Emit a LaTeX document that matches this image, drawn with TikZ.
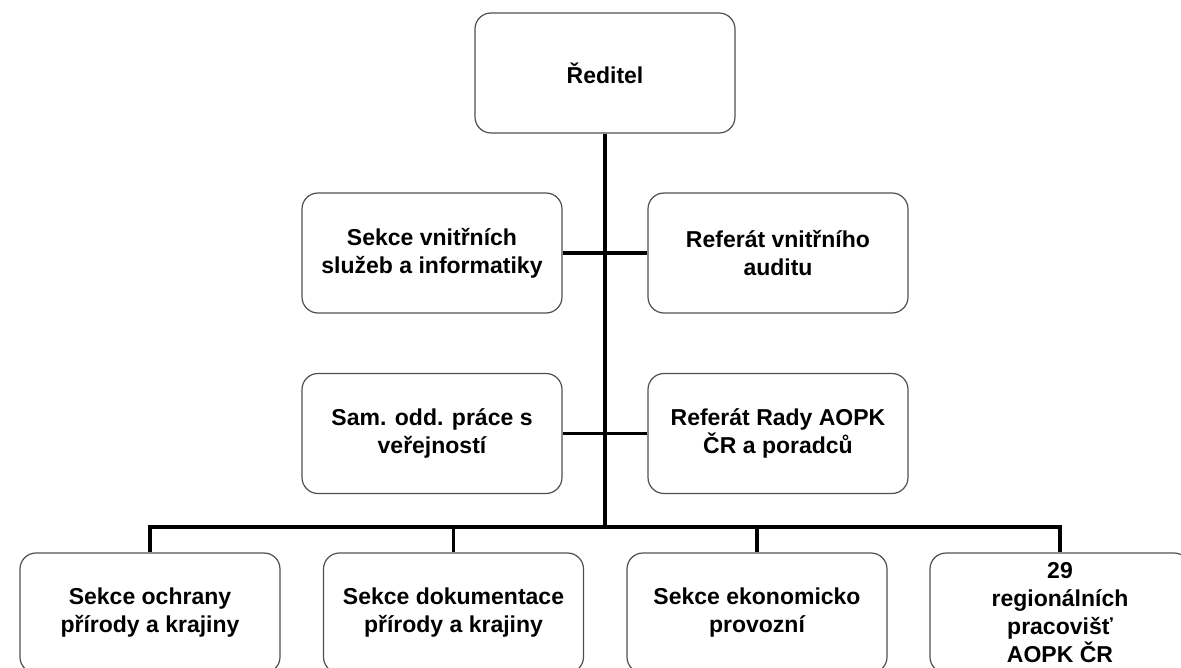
\documentclass[tikz,border=0pt]{standalone}
\usepackage{fontspec}
\setmainfont{Liberation Sans}
\usepackage{tikz}
\usetikzlibrary{calc}
\usepackage{xcolor}
\definecolor{boxline}{RGB}{80,80,80}

\tikzset{
  unit/.style={draw=boxline, line width=1.2pt, rounded corners=16pt, fill=white,
    minimum width=260pt, minimum height=120pt, align=center,
    font=\fontsize{23}{28}\selectfont\bfseries, inner sep=0pt},
  conn/.style={line width=3.6pt, black}
}

\begin{document}
\begin{tikzpicture}[x=1pt,y=-1pt]
\useasboundingbox (0,0) rectangle (1181,668);

% Director
\node[unit] (dir) at (605,73) {Ředitel};

% Staff units
\node[unit] (svsi) at (432,253) {Sekce vnitřních\\služeb a informatiky};
\node[unit] (rva) at (778,253) {Referát vnitřního\\auditu};
\node[unit] (sopv) at (432,433.5) {Sam. odd. práce s\\veřejností};
\node[unit] (rra) at (778,433.5) {Referát Rady AOPK\\ČR a poradců};

% Sections
\node[unit] (sopk) at (150,613) {Sekce ochrany\\přírody a krajiny};
\node[unit] (sdpk) at (453.5,613) {Sekce dokumentace\\přírody a krajiny};
\node[unit] (sep) at (757,613) {Sekce ekonomicko\\provozní};
\node[unit] (rp) at (1060,613) {29\\regionálních\\pracovišť\\AOPK ČR};

% Lines
\coordinate (bus) at (605,527);
\draw[conn] (dir.south) -- (bus);
\draw[conn] (svsi.east) -- (rva.west);
\draw[conn] (sopv.east) -- (rra.west);
\foreach \n in {sopk,sdpk,sep,rp}
  \draw[conn] (bus) -| (\n.north);
\end{tikzpicture}
\end{document}
